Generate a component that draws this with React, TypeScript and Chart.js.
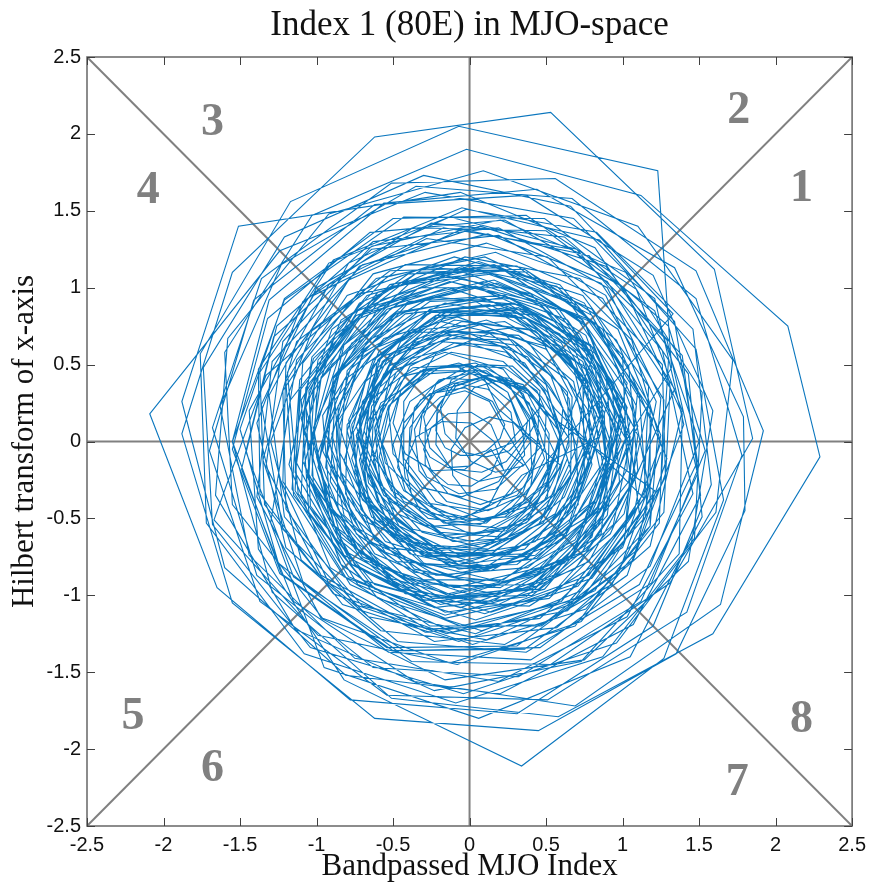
import { useEffect, useRef } from "react";
import { Chart, registerables } from "chart.js";

Chart.register(...registerables);

// Axis ticks shared by both axes
const axisTicks = [-2.5, -2, -1.5, -1, -0.5, 0, 0.5, 1, 1.5, 2, 2.5];
const tickLabels = ["-2.5", "-2", "-1.5", "-1", "-0.5", "0", "0.5", "1", "1.5", "2", "2.5"];

// MJO phase numbers and where they sit in the phase plane
const phaseLabels = ["1", "2", "3", "4", "5", "6", "7", "8"];
const phaseX = [2.17, 1.76, -1.68, -2.1, -2.2, -1.68, 1.75, 2.17];
const phaseY = [1.64, 2.15, 2.07, 1.63, -1.79, -2.13, -2.22, -1.81];

// Bandpassed index (x) vs. its Hilbert transform (y), stretch by stretch
const trackA: [number, number][] = [
  [0.9, 0.0], [0.75, 0.53], [0.32, 0.89], [-0.25, 0.94], [-0.77, 0.64], [-1.02, 0.09], [-0.91, -0.53], [-0.45, -0.96], [0.19, -1.06], [0.78, -0.78], [1.1, -0.19],
  [1.04, 0.49], [0.59, 1.02], [-0.1, 1.2], [-0.8, 0.95], [-1.22, 0.33], [-1.2, -0.44], [-0.75, -1.06], [0.02, -1.32], [0.76, -1.09], [1.27, -0.46],
  [1.31, 0.35], [0.86, 1.03], [0.11, 1.29], [-0.63, 1.09], [-1.09, 0.51], [-1.14, -0.2], [-0.79, -0.79], [-0.19, -1.06], [0.44, -0.94], [0.87, -0.5],
  [1.05, 0.13], [0.79, 0.63], [0.32, 0.87], [-0.17, 0.8], [-0.51, 0.47], [-0.6, 0.05], [-0.43, -0.32], [-0.11, -0.51], [0.25, -0.49], [0.5, -0.28], [0.58, 0.01],
  [0.44, 0.33], [0.23, 0.48], [-0.02, 0.49], [-0.22, 0.37], [-0.3, 0.16], [-0.26, -0.04], [-0.11, -0.18], [0.08, -0.2], [0.24, -0.13], [0.36, 0.02],
  [0.38, 0.14], [0.26, 0.37], [0.0, 0.5], [-0.32, 0.46], [-0.58, 0.21], [-0.66, -0.18], [-0.48, -0.57], [-0.07, -0.8], [0.43, -0.74], [0.83, -0.39],
  [0.99, 0.17], [0.76, 0.76], [0.2, 1.13], [-0.52, 1.11], [-1.13, 0.65], [-1.35, -0.12], [-1.09, -0.91], [-0.38, -1.43], [0.53, -1.45], [1.31, -0.92],
  [1.85, 0.02], [1.6, 1.12], [0.53, 2.14], [-0.62, 1.98], [-1.55, 1.1], [-1.88, 0.05], [-1.55, -1.05], [-0.62, -1.8], [0.45, -1.88], [1.35, -1.38], [1.8, -0.45],
  [1.79, 0.16], [1.34, 1.13], [0.44, 1.64], [-0.56, 1.55], [-1.31, 0.92], [-1.55, 0.0], [-1.23, -0.86], [-0.5, -1.36], [0.36, -1.35], [1.03, -0.87], [1.29, -0.11],
];

const trackB: [number, number][] = [
  [0.96, 0.66], [0.39, 1.1], [-0.29, 1.13], [-0.84, 0.79], [-1.07, 0.22], [-0.93, -0.34], [-0.53, -0.69], [-0.03, -0.75], [0.38, -0.52], [0.58, -0.13],
  [0.61, 0.22], [0.38, 0.55], [0.0, 0.7], [-0.41, 0.59], [-0.7, 0.26], [-0.75, -0.2], [-0.51, -0.61], [-0.07, -0.83], [0.44, -0.76], [0.82, -0.38],
  [0.99, 0.12], [0.74, 0.64], [0.23, 0.95], [-0.4, 0.91], [-0.9, 0.5], [-1.08, -0.15], [-0.84, -0.8], [-0.26, -1.2], [0.47, -1.2], [1.07, -0.77],
  [1.4, 0.11], [1.21, 0.93], [0.49, 1.45], [-0.43, 1.46], [-1.21, 0.92], [-1.55, 0.0], [-1.29, -0.98], [-0.51, -1.67], [0.58, -1.79], [1.59, -1.25], [2.29, -0.1],
  [2.08, 0.75], [1.12, 1.6], [-0.02, 1.9], [-1.03, 1.47], [-1.6, 0.58], [-1.55, -0.41], [-0.96, -1.15], [-0.13, -1.44], [0.69, -1.2], [1.18, -0.55],
  [1.18, 0.21], [0.79, 0.79], [0.18, 1.03], [-0.41, 0.89], [-0.8, 0.46], [-0.85, -0.07], [-0.61, -0.51], [-0.19, -0.71], [0.23, -0.64], [0.51, -0.36],
  [0.52, 0.05], [0.38, 0.31], [0.14, 0.43], [-0.09, 0.38], [-0.21, 0.23], [-0.22, 0.07], [-0.16, -0.04], [-0.06, -0.09], [0.02, -0.09], [0.11, -0.06], [0.2, 0.02],
  [0.23, 0.11], [0.15, 0.26], [-0.03, 0.35], [-0.26, 0.31], [-0.43, 0.12], [-0.47, -0.17], [-0.32, -0.45], [0.0, -0.6], [0.37, -0.53], [0.66, -0.24],
  [0.67, 0.29], [0.45, 0.7], [0.02, 0.92], [-0.48, 0.84], [-0.85, 0.47], [-0.96, -0.06], [-0.72, -0.57], [-0.22, -0.87], [0.38, -0.82], [0.86, -0.43],
  [1.1, 0.1], [0.87, 0.73], [0.31, 1.14], [-0.42, 1.15], [-1.03, 0.72], [-1.3, 0.0], [-1.1, -0.77], [-0.47, -1.3], [0.37, -1.37], [1.11, -0.93],
  [1.49, -0.13], [1.34, 0.78], [0.68, 1.45], [-0.29, 1.62], [-1.24, 1.24], [-2.09, 0.18], [-1.65, -0.95], [-0.78, -1.68], [0.31, -1.77], [1.2, -1.2], [1.58, -0.28],
];

const trackC: [number, number][] = [
  [1.46, 0.73], [0.83, 1.36], [-0.02, 1.51], [-0.79, 1.16], [-1.19, 0.45], [-1.12, -0.34], [-0.62, -0.93], [0.1, -1.12], [0.78, -0.87], [1.17, -0.29],
  [1.06, 0.28], [0.69, 0.82], [0.09, 1.04], [-0.51, 0.87], [-0.89, 0.41], [-0.94, -0.17], [-0.65, -0.65], [-0.15, -0.87], [0.36, -0.77], [0.71, -0.41],
  [0.7, -0.03], [0.53, 0.43], [0.12, 0.71], [-0.39, 0.71], [-0.82, 0.4], [-1.0, -0.1], [-0.86, -0.63], [-0.42, -0.99], [0.15, -1.04], [0.67, -0.74], [0.9, -0.19],
  [1.32, 0.48], [1.23, 1.76], [-0.07, 2.05], [-1.17, 1.56], [-1.76, 0.57], [-1.72, -0.53], [-1.08, -1.38], [-0.09, -1.7], [0.87, -1.4], [1.47, -0.63],
  [1.52, 0.32], [1.02, 1.1], [0.2, 1.44], [-0.64, 1.27], [-1.22, 0.65], [-1.33, -0.16], [-0.97, -0.87], [-0.29, -1.24], [0.46, -1.15], [1.01, -0.65],
  [1.1, 0.04], [0.81, 0.61], [0.29, 0.9], [-0.26, 0.84], [-0.63, 0.49], [-0.73, 0.04], [-0.56, -0.35], [-0.23, -0.55], [0.11, -0.53], [0.35, -0.33], [0.44, -0.06],
  [0.46, 0.33], [0.28, 0.49], [0.06, 0.5], [-0.12, 0.4], [-0.19, 0.22], [-0.16, 0.05], [-0.04, -0.07], [0.11, -0.1], [0.26, -0.06], [0.37, 0.06],
  [0.33, 0.1], [0.25, 0.32], [0.02, 0.46], [-0.28, 0.44], [-0.53, 0.23], [-0.63, -0.13], [-0.48, -0.51], [-0.13, -0.75], [0.37, -0.73], [0.78, -0.41],
  [0.96, 0.16], [0.76, 0.69], [0.27, 1.0], [-0.33, 1.0], [-0.83, 0.62], [-1.03, 0.01], [-0.84, -0.62], [-0.3, -1.03], [0.39, -1.07], [1.0, -0.69], [1.25, -0.01],
  [1.06, 0.66], [0.51, 1.2], [-0.28, 1.32], [-1.02, 0.95], [-1.44, 0.2], [-1.38, -0.7], [-0.82, -1.55], [0.34, -2.11], [1.27, -1.41], [1.66, -0.38],
];

const trackD: [number, number][] = [
  [1.48, 0.6], [0.85, 1.31], [-0.05, 1.52], [-0.89, 1.18], [-1.37, 0.45], [-1.34, -0.41], [-0.83, -1.06], [-0.07, -1.3], [0.66, -1.06], [1.11, -0.47],
  [1.02, 0.24], [0.64, 0.79], [0.04, 1.01], [-0.54, 0.86], [-0.89, 0.42], [-0.93, -0.1], [-0.68, -0.52], [-0.26, -0.71], [0.16, -0.64], [0.45, -0.35],
  [0.6, 0.02], [0.5, 0.37], [0.2, 0.62], [-0.2, 0.65], [-0.56, 0.44], [-0.74, 0.04], [-0.65, -0.41], [-0.31, -0.74], [0.17, -0.82], [0.64, -0.59], [0.89, -0.13],
  [0.85, 0.43], [0.47, 0.88], [-0.13, 1.04], [-0.74, 0.82], [-1.17, 0.27], [-1.3, -0.53], [-0.95, -1.47], [0.06, -1.8], [1.05, -1.4], [1.52, -0.49],
  [1.43, 0.44], [0.89, 1.14], [0.07, 1.4], [-0.72, 1.14], [-1.2, 0.51], [-1.22, -0.26], [-0.82, -0.88], [-0.16, -1.13], [0.49, -0.96], [0.9, -0.48],
  [0.99, 0.22], [0.72, 0.7], [0.24, 0.94], [-0.26, 0.86], [-0.6, 0.53], [-0.69, 0.07], [-0.51, -0.32], [-0.15, -0.53], [0.23, -0.49], [0.51, -0.26], [0.6, 0.07],
  [0.51, 0.32], [0.26, 0.61], [-0.15, 0.7], [-0.58, 0.55], [-0.87, 0.12], [-0.86, -0.44], [-0.49, -0.92], [0.14, -1.11], [0.8, -0.89], [1.25, -0.29],
  [1.3, 0.53], [0.82, 1.26], [-0.06, 1.62], [-1.51, 1.4], [-1.88, 0.26], [-1.6, -0.82], [-0.81, -1.52], [0.2, -1.64], [1.07, -1.19], [1.51, -0.35],
  [1.39, 0.56], [0.78, 1.21], [-0.05, 1.38], [-0.79, 1.05], [-1.2, 0.39], [-1.15, -0.35], [-0.7, -0.9], [-0.06, -1.08], [0.55, -0.87], [0.9, -0.38],
  [0.88, 0.19], [0.58, 0.62], [0.11, 0.79], [-0.34, 0.67], [-0.62, 0.33], [-0.64, -0.08], [-0.43, -0.39], [-0.12, -0.51], [0.17, -0.43], [0.34, -0.22],
];

const trackE: [number, number][] = [
  [0.85, 0.03], [0.69, 0.52], [0.27, 0.83], [-0.26, 0.84], [-0.7, 0.55], [-0.9, 0.05], [-0.77, -0.48], [-0.36, -0.85], [0.19, -0.91], [0.69, -0.64], [0.94, -0.13],
  [0.89, 0.45], [0.48, 0.9], [-0.13, 1.04], [-0.72, 0.8], [-1.07, 0.25], [-1.04, -0.42], [-0.62, -0.96], [0.04, -1.16], [0.71, -0.94], [1.14, -0.37],
  [1.17, 0.36], [0.74, 0.95], [0.06, 1.17], [-0.6, 0.97], [-1.01, 0.43], [-1.05, -0.22], [-0.71, -0.76], [-0.14, -1.0], [0.44, -0.87], [0.84, -0.45],
  [0.94, 0.16], [0.7, 0.63], [0.24, 0.87], [-0.25, 0.8], [-0.6, 0.48], [-0.7, 0.02], [-0.53, -0.38], [-0.16, -0.61], [0.24, -0.58], [0.55, -0.34], [0.65, 0.02],
  [0.47, 0.29], [0.22, 0.52], [-0.12, 0.58], [-0.45, 0.42], [-0.62, 0.09], [-0.58, -0.3], [-0.31, -0.59], [0.08, -0.69], [0.48, -0.53], [0.7, -0.16],
  [0.65, 0.28], [0.38, 0.65], [-0.08, 0.81], [-0.56, 0.67], [-0.88, 0.27], [-0.91, -0.26], [-0.62, -0.73], [-0.1, -0.95], [0.46, -0.82], [0.87, -0.39],
  [1.03, 0.22], [0.74, 0.79], [0.15, 1.09], [-0.51, 1.01], [-1.02, 0.54], [-1.18, -0.15], [-0.91, -0.82], [-0.28, -1.22], [0.48, -1.19], [1.09, -0.71],
];

const trackF: [number, number][] = [
  [1.25, 0.04], [0.97, 0.73], [0.36, 1.12], [-0.34, 1.1], [-0.88, 0.69], [-1.08, 0.06], [-0.88, -0.55], [-0.39, -0.92], [0.2, -0.95], [0.7, -0.65], [0.89, -0.13],
  [0.82, 0.49], [0.43, 0.82], [-0.05, 0.87], [-0.45, 0.65], [-0.63, 0.26], [-0.55, -0.14], [-0.28, -0.4], [0.07, -0.45], [0.35, -0.3], [0.49, -0.04],
  [0.5, 0.17], [0.35, 0.37], [0.12, 0.43], [-0.09, 0.36], [-0.21, 0.18], [-0.22, -0.02], [-0.12, -0.18], [0.06, -0.26], [0.24, -0.22], [0.36, -0.09],
  [0.35, 0.04], [0.28, 0.25], [0.09, 0.4], [-0.17, 0.41], [-0.39, 0.26], [-0.5, -0.02], [-0.42, -0.32], [-0.17, -0.53], [0.17, -0.56], [0.49, -0.38], [0.65, -0.03],
  [0.64, 0.32], [0.34, 0.62], [-0.11, 0.69], [-0.53, 0.49], [-0.76, 0.06], [-0.71, -0.44], [-0.36, -0.83], [0.16, -0.94], [0.67, -0.74], [0.98, -0.26],
  [0.93, 0.38], [0.57, 0.88], [-0.04, 1.1], [-0.72, 0.96], [-1.33, 0.43], [-1.67, -0.51], [-0.99, -1.26], [-0.08, -1.45], [0.73, -1.17], [1.24, -0.53],
  [1.27, 0.27], [0.87, 0.93], [0.17, 1.23], [-0.54, 1.07], [-1.03, 0.55], [-1.13, -0.14], [-0.82, -0.74], [-0.24, -1.04], [0.39, -0.96], [0.84, -0.55],
];

const trackG: [number, number][] = [
  [1.05, 0.03], [0.84, 0.56], [0.38, 0.86], [-0.16, 0.84], [-0.57, 0.52], [-0.73, 0.04], [-0.58, -0.42], [-0.2, -0.72], [0.26, -0.73], [0.63, -0.49], [0.79, -0.1],
  [0.52, 0.37], [0.24, 0.69], [-0.19, 0.78], [-0.61, 0.61], [-0.86, 0.23], [-0.84, -0.25], [-0.55, -0.65], [-0.07, -0.8], [0.43, -0.65], [0.76, -0.23],
  [0.91, 0.28], [0.6, 0.76], [0.05, 1.0], [-0.54, 0.86], [-0.97, 0.41], [-1.06, -0.22], [-0.75, -0.8], [-0.16, -1.11], [0.52, -1.02], [1.02, -0.54],
  [1.09, 0.23], [0.8, 0.82], [0.23, 1.11], [-0.38, 1.04], [-0.82, 0.63], [-0.95, 0.07], [-0.74, -0.45], [-0.28, -0.75], [0.25, -0.72], [0.65, -0.41], [0.8, 0.06],
  [0.64, 0.4], [0.28, 0.66], [-0.14, 0.67], [-0.48, 0.45], [-0.62, 0.09], [-0.53, -0.27], [-0.27, -0.5], [0.07, -0.54], [0.35, -0.39], [0.49, -0.11],
  [0.41, 0.14], [0.24, 0.39], [-0.07, 0.51], [-0.41, 0.43], [-0.65, 0.14], [-0.69, -0.25], [-0.48, -0.6], [-0.09, -0.78], [0.36, -0.7], [0.69, -0.36],
  [0.83, 0.18], [0.6, 0.64], [0.13, 0.89], [-0.42, 0.83], [-0.85, 0.45], [-0.98, -0.12], [-0.76, -0.68], [-0.24, -1.02], [0.41, -1.0], [0.92, -0.6],
];

const trackH: [number, number][] = [
  [1.34, 0.34], [0.9, 1.04], [0.12, 1.35], [-0.7, 1.15], [-1.29, 0.52], [-1.39, -0.36], [-0.97, -1.15], [-0.16, -1.55], [0.75, -1.42], [1.43, -0.78],
  [1.59, 0.2], [1.2, 1.08], [0.37, 1.6], [-0.62, 1.54], [-1.41, 0.92], [-1.7, -0.06], [-1.37, -1.04], [-0.54, -1.65], [0.51, -1.68], [1.42, -1.11], [1.78, -0.09],
  [1.48, 0.93], [0.67, 1.58], [-0.35, 1.66], [-1.23, 1.15], [-1.63, 0.23], [-1.44, -0.74], [-0.75, -1.41], [0.19, -1.56], [1.03, -1.14], [1.46, -0.34],
  [1.26, 0.59], [0.7, 1.25], [-0.13, 1.46], [-0.92, 1.16], [-1.38, 0.47], [-1.37, -0.34], [-0.89, -0.99], [-0.15, -1.25], [0.6, -1.04], [1.08, -0.44],
  [1.22, 0.26], [0.89, 0.95], [0.19, 1.34], [-0.64, 1.25], [-1.28, 0.68], [-1.49, -0.18], [-1.15, -1.04], [-0.36, -1.56], [0.69, -1.72], [1.64, -1.06],
  [1.92, 0.07], [1.48, 1.11], [0.56, 1.71], [-0.51, 1.68], [-1.36, 1.06], [-1.68, 0.09], [-1.39, -0.87], [-0.63, -1.47], [0.32, -1.53], [1.12, -1.04], [1.49, -0.21],
  [1.29, 0.66], [0.67, 1.25], [-0.17, 1.39], [-0.92, 1.02], [-1.31, 0.3], [-1.21, -0.49], [-0.7, -1.07], [0.04, -1.25], [0.73, -0.97], [1.14, -0.37],
];

const trackI: [number, number][] = [
  [0.56, 0.21], [0.36, 0.51], [0.0, 0.64], [-0.38, 0.54], [-0.64, 0.23], [-0.68, -0.18], [-0.46, -0.55], [-0.06, -0.74], [0.39, -0.67], [0.72, -0.34],
  [0.87, 0.09], [0.66, 0.53], [0.23, 0.78], [-0.28, 0.73], [-0.68, 0.39], [-0.82, -0.13], [-0.62, -0.64], [-0.16, -0.94], [0.4, -0.93], [0.86, -0.6],
  [0.92, 0.0], [0.74, 0.52], [0.3, 0.82], [-0.22, 0.82], [-0.63, 0.53], [-0.8, 0.07], [-0.67, -0.39], [-0.31, -0.67], [0.12, -0.7], [0.48, -0.48], [0.64, -0.11],
  [0.49, 0.33], [0.24, 0.58], [-0.1, 0.64], [-0.39, 0.49], [-0.53, 0.21], [-0.5, -0.08], [-0.31, -0.3], [-0.05, -0.36], [0.19, -0.26], [0.33, -0.06],
  [0.43, 0.12], [0.31, 0.37], [0.04, 0.51], [-0.27, 0.47], [-0.52, 0.24], [-0.59, -0.1], [-0.45, -0.45], [-0.11, -0.65], [0.29, -0.63], [0.62, -0.36],
  [0.85, 0.17], [0.69, 0.59], [0.3, 0.85], [-0.17, 0.85], [-0.57, 0.57], [-0.74, 0.1], [-0.6, -0.39], [-0.2, -0.72], [0.33, -0.75], [0.79, -0.48], [1.02, 0.02],
  [0.78, 0.45], [0.37, 0.8], [-0.15, 0.84], [-0.59, 0.59], [-0.79, 0.14], [-0.71, -0.33], [-0.38, -0.65], [0.06, -0.73], [0.45, -0.54], [0.66, -0.18],
];

const trackJ: [number, number][] = [
  [0.57, 0.12], [0.38, 0.34], [0.1, 0.41], [-0.15, 0.31], [-0.29, 0.09], [-0.29, -0.15], [-0.14, -0.34], [0.07, -0.41], [0.27, -0.34], [0.39, -0.19],
  [0.22, 0.1], [0.13, 0.26], [-0.03, 0.33], [-0.19, 0.29], [-0.31, 0.18], [-0.33, 0.03], [-0.26, -0.1], [-0.14, -0.17], [0.0, -0.16], [0.1, -0.08],
  [0.3, 0.0], [0.27, 0.19], [0.12, 0.34], [-0.1, 0.38], [-0.32, 0.27], [-0.45, 0.04], [-0.42, -0.24], [-0.21, -0.45], [0.09, -0.52], [0.39, -0.39], [0.57, -0.1],
  [0.44, 0.17], [0.22, 0.47], [-0.16, 0.58], [-0.54, 0.45], [-0.8, 0.11], [-0.81, -0.34], [-0.55, -0.72], [-0.1, -0.88], [0.38, -0.76], [0.71, -0.37],
  [0.87, 0.23], [0.59, 0.7], [0.08, 0.94], [-0.48, 0.83], [-0.89, 0.41], [-0.99, -0.17], [-0.72, -0.72], [-0.18, -1.02], [0.45, -0.96], [0.94, -0.54],
  [1.05, 0.01], [0.78, 0.58], [0.26, 0.89], [-0.34, 0.84], [-0.78, 0.47], [-0.93, -0.08], [-0.74, -0.6], [-0.3, -0.9], [0.22, -0.9], [0.63, -0.61], [0.8, -0.15],
  [0.68, 0.39], [0.32, 0.69], [-0.13, 0.72], [-0.49, 0.49], [-0.67, 0.12], [-0.59, -0.27], [-0.31, -0.54], [0.05, -0.6], [0.37, -0.44], [0.53, -0.14],
];

const trackK: [number, number][] = [
  [0.8, 0.53], [0.4, 0.96], [-0.17, 1.08], [-0.73, 0.85], [-1.05, 0.33], [-1.02, -0.29], [-0.63, -0.8], [-0.01, -0.99], [0.62, -0.79], [1.04, -0.26],
  [1.1, 0.34], [0.7, 0.89], [0.06, 1.11], [-0.58, 0.92], [-0.99, 0.42], [-1.03, -0.22], [-0.7, -0.75], [-0.14, -0.99], [0.44, -0.86], [0.83, -0.44],
  [0.99, 0.01], [0.75, 0.49], [0.29, 0.74], [-0.22, 0.68], [-0.59, 0.35], [-0.7, -0.13], [-0.52, -0.56], [-0.13, -0.81], [0.31, -0.8], [0.65, -0.53], [0.78, -0.14],
  [0.59, 0.37], [0.28, 0.66], [-0.15, 0.72], [-0.56, 0.52], [-0.77, 0.11], [-0.71, -0.36], [-0.39, -0.73], [0.1, -0.84], [0.59, -0.65], [0.88, -0.2],
  [0.78, 0.36], [0.43, 0.82], [-0.14, 1.0], [-0.72, 0.82], [-1.11, 0.33], [-1.14, -0.32], [-0.79, -0.88], [-0.16, -1.15], [0.53, -1.0], [1.01, -0.47],
  [1.17, 0.25], [0.8, 0.86], [0.16, 1.15], [-0.52, 1.02], [-0.99, 0.53], [-1.09, -0.13], [-0.8, -0.72], [-0.24, -1.02], [0.39, -0.95], [0.82, -0.53],
  [0.95, 0.09], [0.74, 0.62], [0.28, 0.93], [-0.26, 0.91], [-0.69, 0.6], [-0.85, 0.1], [-0.7, -0.38], [-0.32, -0.69], [0.16, -0.71], [0.56, -0.47], [0.74, -0.04],
];

const trackL: [number, number][] = [
  [0.81, 0.29], [0.54, 0.61], [0.15, 0.71], [-0.22, 0.57], [-0.43, 0.26], [-0.43, -0.11], [-0.22, -0.39], [0.1, -0.51], [0.42, -0.41], [0.6, -0.16],
  [0.37, 0.04], [0.25, 0.32], [-0.02, 0.5], [-0.37, 0.48], [-0.66, 0.26], [-0.77, -0.11], [-0.64, -0.49], [-0.3, -0.74], [0.13, -0.74], [0.49, -0.48],
  [0.8, 0.0], [0.68, 0.48], [0.29, 0.81], [-0.23, 0.85], [-0.69, 0.58], [-0.93, 0.08], [-0.82, -0.48], [-0.41, -0.89], [0.17, -0.99], [0.73, -0.73], [1.03, -0.18],
  [1.0, 0.56], [0.57, 1.01], [-0.04, 1.13], [-0.59, 0.88], [-0.89, 0.37], [-0.84, -0.2], [-0.48, -0.64], [0.05, -0.79], [0.55, -0.6], [0.85, -0.17],
  [0.77, 0.21], [0.5, 0.6], [0.07, 0.76], [-0.37, 0.64], [-0.65, 0.3], [-0.69, -0.12], [-0.47, -0.47], [-0.11, -0.63], [0.26, -0.56], [0.52, -0.3],
  [0.5, -0.07], [0.39, 0.25], [0.11, 0.46], [-0.26, 0.46], [-0.58, 0.25], [-0.72, -0.12], [-0.62, -0.52], [-0.3, -0.8], [0.14, -0.84], [0.55, -0.62], [0.75, -0.19],
  [0.74, 0.43], [0.37, 0.8], [-0.16, 0.9], [-0.66, 0.66], [-0.96, 0.17], [-0.91, -0.42], [-0.52, -0.89], [0.09, -1.05], [0.69, -0.83], [1.06, -0.28],
];

const trackM: [number, number][] = [
  [1.0, 0.14], [0.76, 0.75], [0.23, 1.11], [-0.4, 1.09], [-0.9, 0.73], [-1.1, 0.15], [-0.93, -0.42], [-0.48, -0.78], [0.1, -0.82], [0.57, -0.53], [0.79, -0.03],
  [0.77, 0.39], [0.39, 0.73], [-0.1, 0.79], [-0.52, 0.57], [-0.72, 0.17], [-0.66, -0.27], [-0.37, -0.57], [0.02, -0.65], [0.37, -0.5], [0.57, -0.19],
  [0.59, 0.06], [0.38, 0.33], [0.08, 0.42], [-0.22, 0.32], [-0.39, 0.09], [-0.4, -0.2], [-0.25, -0.42], [-0.01, -0.52], [0.24, -0.47], [0.4, -0.29],
  [0.45, 0.05], [0.35, 0.31], [0.11, 0.49], [-0.2, 0.48], [-0.46, 0.3], [-0.57, -0.02], [-0.48, -0.36], [-0.19, -0.59], [0.19, -0.62], [0.53, -0.41], [0.7, -0.04],
  [0.76, 0.4], [0.43, 0.72], [-0.05, 0.78], [-0.49, 0.57], [-0.72, 0.12], [-0.66, -0.4], [-0.3, -0.79], [0.23, -0.92], [0.76, -0.71], [1.09, -0.23],
  [0.94, 0.38], [0.56, 0.86], [-0.04, 1.06], [-0.66, 0.87], [-1.07, 0.35], [-1.1, -0.34], [-0.73, -0.93], [-0.06, -1.2], [0.65, -1.04], [1.15, -0.49],
  [1.19, 0.15], [0.81, 0.77], [0.16, 1.05], [-0.51, 0.91], [-0.97, 0.42], [-1.06, -0.23], [-0.77, -0.8], [-0.23, -1.08], [0.37, -1.01], [0.8, -0.62],
];

const trackN: [number, number][] = [
  [1.03, 0.38], [0.64, 0.92], [0.0, 1.14], [-0.67, 0.95], [-1.11, 0.4], [-1.16, -0.31], [-0.78, -0.93], [-0.11, -1.24], [0.64, -1.1], [1.18, -0.55],
  [1.25, 0.28], [0.9, 1.0], [0.19, 1.39], [-0.63, 1.3], [-1.26, 0.75], [-1.46, -0.07], [-1.15, -0.88], [-0.43, -1.36], [0.46, -1.34], [1.18, -0.81],
  [1.5, 0.0], [1.21, 0.85], [0.5, 1.37], [-0.37, 1.39], [-1.09, 0.91], [-1.39, 0.12], [-1.2, -0.69], [-0.58, -1.23], [0.23, -1.32], [0.93, -0.93], [1.28, -0.23],
  [1.26, 0.5], [0.72, 1.06], [-0.03, 1.2], [-0.72, 0.9], [-1.1, 0.27], [-1.05, -0.46], [-0.6, -1.02], [0.08, -1.23], [0.75, -1.0], [1.16, -0.44],
  [1.11, 0.3], [0.75, 0.9], [0.1, 1.2], [-0.61, 1.06], [-1.13, 0.53], [-1.25, -0.22], [-0.92, -0.92], [-0.23, -1.3], [0.57, -1.21], [1.18, -0.68],
  [1.39, 0.2], [1.09, 0.99], [0.37, 1.47], [-0.5, 1.45], [-1.21, 0.93], [-1.5, 0.08], [-1.25, -0.79], [-0.53, -1.37], [0.4, -1.42], [1.19, -0.92], [1.54, -0.06],
  [1.3, 0.75], [0.62, 1.33], [-0.25, 1.42], [-1.0, 1.0], [-1.36, 0.24], [-1.22, -0.57], [-0.66, -1.14], [0.11, -1.29], [0.82, -0.97], [1.21, -0.32],
];

const trackO: [number, number][] = [
  [0.48, 0.2], [0.37, 0.35], [0.2, 0.4], [0.03, 0.35], [-0.08, 0.2], [-0.09, 0.02], [0.01, -0.13], [0.17, -0.2], [0.35, -0.16], [0.47, -0.03],
  [0.19, 0.21], [0.1, 0.4], [-0.09, 0.49], [-0.3, 0.47], [-0.45, 0.33], [-0.5, 0.12], [-0.42, -0.08], [-0.24, -0.19], [-0.03, -0.18], [0.14, -0.05],
  [0.22, -0.18], [0.16, 0.0], [0.01, 0.12], [-0.18, 0.13], [-0.35, 0.03], [-0.42, -0.15], [-0.38, -0.34], [-0.24, -0.47], [-0.04, -0.5], [0.13, -0.41], [0.22, -0.24],
  [0.4, 0.0], [0.29, 0.12], [0.13, 0.16], [-0.03, 0.09], [-0.12, -0.05], [-0.11, -0.22], [-0.01, -0.35], [0.15, -0.4], [0.31, -0.35], [0.41, -0.22],
  [0.39, 0.15], [0.26, 0.36], [0.03, 0.45], [-0.2, 0.4], [-0.36, 0.22], [-0.39, -0.02], [-0.28, -0.23], [-0.07, -0.34], [0.17, -0.31], [0.35, -0.15],
  [0.2, -0.03], [0.14, 0.11], [0.01, 0.19], [-0.14, 0.18], [-0.25, 0.09], [-0.3, -0.05], [-0.25, -0.19], [-0.14, -0.28], [0.01, -0.29], [0.14, -0.21], [0.2, -0.07],
  [0.47, 0.23], [0.27, 0.41], [0.0, 0.44], [-0.24, 0.32], [-0.36, 0.08], [-0.33, -0.19], [-0.15, -0.39], [0.12, -0.45], [0.37, -0.34], [0.51, -0.12],
];

const trackP: [number, number][] = [
  [1.33, 0.83], [0.66, 1.53], [-0.3, 1.73], [-1.21, 1.33], [-1.74, 0.48], [-1.68, -0.54], [-1.04, -1.34], [-0.04, -1.64], [0.96, -1.31], [1.61, -0.46],
  [1.72, 0.53], [1.1, 1.4], [0.09, 1.76], [-0.92, 1.48], [-1.58, 0.67], [-1.66, -0.35], [-1.14, -1.22], [-0.23, -1.62], [0.73, -1.43], [1.37, -0.73],
  [1.39, 0.18], [1.01, 1.0], [0.23, 1.44], [-0.65, 1.36], [-1.32, 0.8], [-1.55, -0.05], [-1.24, -0.86], [-0.54, -1.34], [0.31, -1.33], [0.98, -0.84], [1.25, -0.07],
];

// Phase-plane guide lines: the two axes and the two diagonals
const guideLines: [number, number][][] = [
  [[-2.5, 0], [2.5, 0]],
  [[0, -2.5], [0, 2.5]],
  [[-2.5, -2.5], [2.5, 2.5]],
  [[-2.5, 2.5], [2.5, -2.5]],
];

const TICK_LEN = 8;

const framePlugin = {
  id: "mjoFrame",
  afterDatasetsDraw(chart: any) {
    const { ctx, chartArea: a, scales } = chart;
    const xs = scales.x;
    const ys = scales.y;
    ctx.save();

    // phase numbers
    ctx.fillStyle = "#808080";
    ctx.font = "bold 46px 'Liberation Serif', serif";
    ctx.textAlign = "center";
    ctx.textBaseline = "middle";
    phaseLabels.forEach((t, i) => {
      ctx.fillText(t, xs.getPixelForValue(phaseX[i]), ys.getPixelForValue(phaseY[i]));
    });

    // axes box
    ctx.strokeStyle = "#707070";
    ctx.lineWidth = 1.6;
    ctx.strokeRect(a.left, a.top, a.right - a.left, a.bottom - a.top);

    // inward tick marks on all four sides
    ctx.strokeStyle = "#404040";
    ctx.lineWidth = 1;
    ctx.beginPath();
    axisTicks.forEach((v) => {
      const px = Math.round(xs.getPixelForValue(v)) + 0.5;
      ctx.moveTo(px, a.bottom);
      ctx.lineTo(px, a.bottom - TICK_LEN);
      ctx.moveTo(px, a.top);
      ctx.lineTo(px, a.top + TICK_LEN);
      const py = Math.round(ys.getPixelForValue(v)) + 0.5;
      ctx.moveTo(a.left, py);
      ctx.lineTo(a.left + TICK_LEN, py);
      ctx.moveTo(a.right, py);
      ctx.lineTo(a.right - TICK_LEN, py);
    });
    ctx.stroke();
    ctx.restore();
  },
};

export default function App() {
  const canvasRef = useRef<HTMLCanvasElement | null>(null);

  useEffect(() => {
    const canvas = canvasRef.current;
    if (!canvas) return;

    const track = [
      ...trackA, ...trackB, ...trackC, ...trackD, ...trackE, ...trackF, ...trackG, ...trackH,
      ...trackI, ...trackJ, ...trackK, ...trackL, ...trackM, ...trackN, ...trackO, ...trackP,
    ].map(([x, y]) => ({ x, y }));

    const guideSets = guideLines.map((seg) => ({
      type: "scatter" as const,
      data: seg.map(([x, y]) => ({ x, y })),
      showLine: true,
      borderColor: "#808080",
      borderWidth: 2,
      pointRadius: 0,
      order: 2,
    }));

    const tickFont = { family: "'Liberation Sans', Arial, sans-serif", size: 20 };
    const labelFont = { family: "'Liberation Serif', serif", size: 31, lineHeight: 1.1 };

    const fixTicks = (scale: any) => {
      scale.ticks = axisTicks.map((value) => ({ value }));
    };

    const chart = new Chart(canvas, {
      type: "scatter",
      data: {
        datasets: [
          ...guideSets,
          {
            type: "scatter",
            data: track,
            showLine: true,
            borderColor: "rgb(10,118,190)",
            borderWidth: 1.1,
            pointRadius: 0,
            tension: 0,
            order: 1,
          },
        ],
      },
      options: {
        responsive: false,
        animation: false,
        layout: { padding: { left: 0, right: 18, top: 0, bottom: 0 } },
        plugins: {
          legend: { display: false },
          tooltip: { enabled: false },
          title: {
            display: true,
            text: "Index 1 (80E) in MJO-space",
            fullSize: false,
            color: "#111",
            font: { family: "'Liberation Serif', serif", size: 35, weight: "normal", lineHeight: 1.0 },
            padding: { top: 8, bottom: 14 },
          },
        },
        scales: {
          x: {
            type: "linear",
            min: -2.5,
            max: 2.5,
            afterBuildTicks: fixTicks,
            afterFit: (scale: any) => {
              scale.height = 58;
            },
            grid: { display: false, drawTicks: false },
            border: { display: false },
            ticks: {
              autoSkip: false,
              maxRotation: 0,
              padding: 7,
              color: "#111",
              font: tickFont,
              callback: (_v: any, i: number) => tickLabels[i],
            },
            title: {
              display: true,
              text: "Bandpassed MJO Index",
              color: "#111",
              font: labelFont,
              padding: { top: 0, bottom: 0 },
            },
          },
          y: {
            type: "linear",
            min: -2.5,
            max: 2.5,
            afterBuildTicks: fixTicks,
            afterFit: (scale: any) => {
              scale.width = 87;
            },
            grid: { display: false, drawTicks: false },
            border: { display: false },
            ticks: {
              autoSkip: false,
              padding: 6,
              color: "#111",
              font: tickFont,
              callback: (_v: any, i: number) => tickLabels[i],
            },
            title: {
              display: true,
              text: "Hilbert transform of x-axis",
              color: "#111",
              font: labelFont,
              padding: { top: 8, bottom: 0 },
            },
          },
        },
      },
      plugins: [framePlugin],
    } as any);

    return () => chart.destroy();
  }, []);

  return (
    <div style={{ position: "fixed", left: 0, top: 0, width: 873, height: 884 }}>
      <canvas ref={canvasRef} width={873} height={884} style={{ display: "block" }} />
    </div>
  );
}
